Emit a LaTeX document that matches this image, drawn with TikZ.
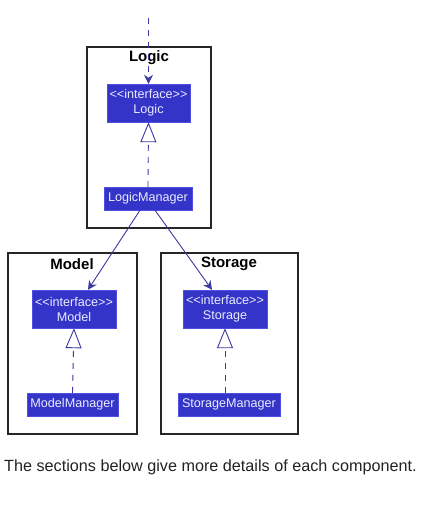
\documentclass[tikz,border=0pt]{standalone}
\usepackage{fontspec}
\setmainfont{Liberation Sans}
\usetikzlibrary{arrows.meta}
\definecolor{cls}{HTML}{3434C8}
\definecolor{clsb}{HTML}{5050E0}
\definecolor{ln}{HTML}{3A3AA0}
\definecolor{txt}{HTML}{222222}
\newcommand{\ltlt}{{<}{<}}
\newcommand{\gtgt}{{>}{>}}
\begin{document}
\begin{tikzpicture}[x=1pt,y=-1pt,
  pkg/.style={draw=black!85,line width=1.3pt,fill=white},
  pkgtitle/.style={font=\fontsize{15}{17}\selectfont\bfseries,text=black},
  cbox/.style={draw=clsb,fill=cls,text=white!92!blue,font=\fontsize{12.6}{15}\selectfont,inner sep=0pt,align=center},
  dep/.style={draw=ln,line width=0.9pt,-{Stealth[length=9pt,width=9pt,inset=3pt]}},
  real/.style={draw=ln,line width=0.9pt,dash pattern=on 6pt off 6pt,-{Triangle[open,length=20pt,width=16pt,fill=white]}}
]
\useasboundingbox (0,0) rectangle (437,510);
% packages
\draw[pkg] (87,47) rectangle (211,228);
\node[pkgtitle] (tlogic) at (149,58) {Logic};
\draw[pkg] (8,253) rectangle (137,434);
\node[pkgtitle] (tmodel) at (72,264) {Model};
\draw[pkg] (161,253) rectangle (298,434);
\node[pkgtitle] (tstorage) at (229,264) {Storage};
% classes
\node[cbox,minimum width=83pt,minimum height=38pt] (ilogic) at (148.5,103) {\ltlt interface\gtgt\\Logic};
\node[cbox,minimum width=88pt,minimum height=23pt] (lm) at (148,198.5) {LogicManager};
\node[cbox,minimum width=84pt,minimum height=38pt] (imodel) at (74,309) {\ltlt interface\gtgt\\Model};
\node[cbox,minimum width=91pt,minimum height=23pt] (mm) at (72.5,404.5) {ModelManager};
\node[cbox,minimum width=84pt,minimum height=38pt] (istorage) at (225,309) {\ltlt interface\gtgt\\Storage};
\node[cbox,minimum width=102pt,minimum height=23pt] (sm) at (229,404.5) {StorageManager};
% connectors
\coordinate (top) at (148.5,18);
\draw[dep,dash pattern=on 6pt off 6pt] (top) -- (ilogic.north);
\draw[real] (lm.north) -- (ilogic.south);
\draw[real] (mm.north) -- (imodel.south);
\draw[real] (sm.north -| istorage.south) -- (istorage.south);
\draw[dep] ([xshift=-8pt]lm.south) -- ([xshift=14pt]imodel.north);
\draw[dep] ([xshift=7pt]lm.south) -- ([xshift=-13pt]istorage.north);
% caption
\node[anchor=west,text=txt,font=\fontsize{16.2}{19}\selectfont,inner sep=0pt] (cap) at (4,467) {The sections below give more details of each component.};
\end{tikzpicture}
\end{document}
